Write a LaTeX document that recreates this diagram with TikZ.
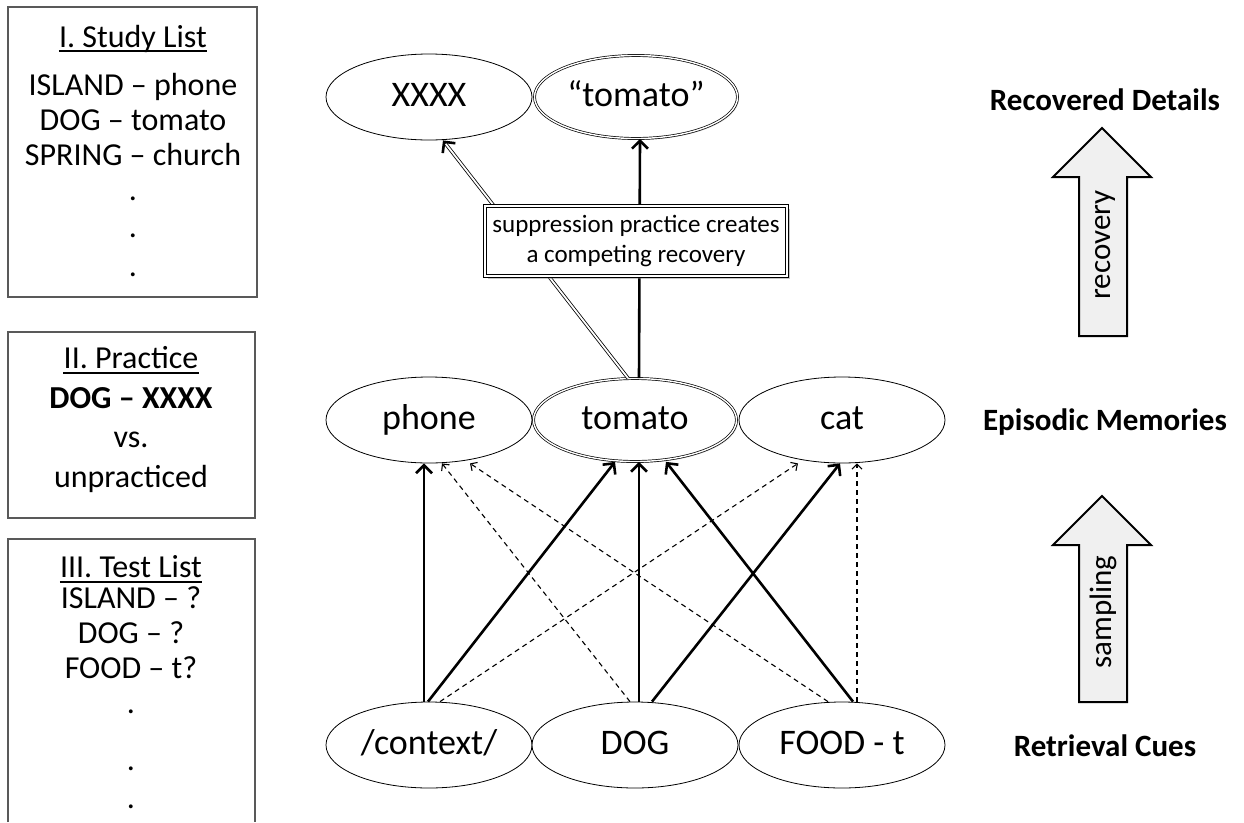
\documentclass[tikz,border=0pt]{standalone}
\usepackage{fontspec}
\setmainfont{Carlito}
\usetikzlibrary{shapes.geometric,arrows.meta,shadows,calc}

\tikzset{
  memnode/.style={ellipse, draw, line width=0.8pt, fill=white, minimum width=206pt,
    minimum height=86pt, inner sep=0pt, text height=25pt, text depth=6pt,
    font=\fontsize{36}{40}\selectfont},
  keynode/.style={memnode, double, double distance=1.4pt, line width=0.7pt,
    minimum width=203pt, minimum height=83pt,
    drop shadow={opacity=0.25, shadow xshift=1.5pt, shadow yshift=-1.5pt}},
  strong/.style={line width=2.6pt, -{Straight Barb[length=8pt, width=16pt]}},
  weak/.style={line width=1.1pt, dash pattern=on 5pt off 4pt,
    -{Straight Barb[length=5pt, width=10pt]}},
  listline/.style={anchor=base, inner sep=0pt, font=\fontsize{32}{36}\selectfont},
  levellabel/.style={anchor=base, font=\bfseries\fontsize{31}{36}\selectfont},
  bigarrow/.style={draw, line width=2pt, fill=black!6, line join=miter},
  arrowlabel/.style={rotate=90, font=\fontsize{31}{36}\selectfont},
  listframe/.style={draw=black!65, line width=1.2pt},
  notebox/.style={draw, double, double distance=1.6pt, line width=0.8pt, fill=white,
    align=center, minimum width=302pt, minimum height=70pt, inner sep=2pt,
    font=\fontsize{25}{30}\selectfont,
    drop shadow={opacity=0.45, shadow xshift=2.5pt, shadow yshift=-2.5pt}}
}

\begin{document}
\begin{tikzpicture}[x=1pt,y=-1pt]
  \useasboundingbox (0,0) rectangle (1244,822);

  % study list
  \draw[listframe] (8,7) rectangle (257,297);
  \node[listline] (s1) at (133,47) {I. Study List};
  \draw[line width=1.5pt] ([yshift=-4pt]s1.base west) -- ([yshift=-4pt]s1.base east);
  \node[listline] (s2) at (133,95) {ISLAND – phone};
  \node[listline] (s3) at (133,130) {DOG – tomato};
  \node[listline] (s4) at (133,165) {SPRING – church};
  \node[listline] (s5) at (133,200) {.};
  \node[listline] (s6) at (133,237) {.};
  \node[listline] (s7) at (133,276) {.};

  % practice
  \draw[listframe] (8,332) rectangle (255,518);
  \node[listline] (p1) at (131,368) {II. Practice};
  \draw[line width=1.5pt] ([yshift=-5pt]p1.base west) -- ([yshift=-5pt]p1.base east);
  \node[listline,font=\bfseries\fontsize{32}{36}\selectfont] (p2) at (131,408) {DOG – XXXX};
  \node[listline] (p3) at (131,447) {vs.};
  \node[listline] (p4) at (131,487) {unpracticed};

  % test list
  \draw[listframe] (8,822) -- (8,539) -- (255,539) -- (255,822);
  \node[listline] (t1) at (131,577) {III. Test List};
  \draw[line width=1.5pt] ([yshift=-5pt]t1.base west) -- ([yshift=-5pt]t1.base east);
  \node[listline] (t2) at (131,608) {ISLAND – ?};
  \node[listline] (t3) at (131,643) {DOG – ?};
  \node[listline] (t4) at (131,678) {FOOD – t?};
  \node[listline] (t5) at (131,713) {.};
  \node[listline] (t6) at (131,770) {.};
  \node[listline] (t7) at (131,808) {.};

  % recovered details
  \node[memnode] (xxxx) at (429,97) {XXXX};
  \node[keynode] (quote) at (636,97) {“tomato”};

  % episodic memories
  \node[memnode] (phone) at (429,420) {phone};
  \node[keynode] (tomato) at (635,420) {tomato};
  \node[memnode] (cat) at (842,420) {cat};

  % retrieval cues
  \node[memnode] (ctx) at (429,745) {/context/};
  \node[memnode] (dog) at (635,745) {DOG};
  \node[memnode] (food) at (842,745) {FOOD - t};

  % sampling links
  \draw[strong] ([xshift=-5pt]ctx.north) -- ([xshift=-5pt]phone.south);
  \draw[strong] ([xshift=-1pt]ctx.north) -- ([xshift=-20pt]tomato.south);
  \draw[weak] ([xshift=11pt]ctx.north) -- ([xshift=-44pt]cat.south);
  \draw[weak] ([xshift=-5pt]dog.north) -- ([xshift=13pt]phone.south);
  \draw[strong] ([xshift=4pt]dog.north) -- ([xshift=4pt]tomato.south);
  \draw[strong] ([xshift=17pt]dog.north) -- ([xshift=-2pt]cat.south);
  \draw[weak] ([xshift=-14pt]food.north) -- ([xshift=41pt]phone.south);
  \draw[strong] ([xshift=11pt]food.north) -- ([xshift=31pt]tomato.south);
  \draw[weak] ([xshift=15pt]food.north) -- ([xshift=15pt]cat.south);

  % recovery links
  \draw[strong] ([xshift=4pt]tomato.north) -- ([xshift=4pt]quote.south);
  \coordinate (dfoot) at ([xshift=-7pt]tomato.north);
  \coordinate (dtip) at ([xshift=14pt]xxxx.south);
  \draw[double, double distance=1.8pt, line width=0.8pt, shorten >=3pt] (dfoot) -- (dtip);
  \draw[line width=2.6pt, -{Straight Barb[length=8pt, width=16pt]}] ($(dtip)!4pt!(dfoot)$) -- (dtip);

  \node[notebox] (note) at (636,241) {suppression practice creates\\a competing recovery};

  % level labels
  \node[levellabel] (lrec) at (1105,110) {Recovered Details};
  \node[levellabel] (lepi) at (1105,430) {Episodic Memories};
  \node[levellabel] (lcue) at (1105,756) {Retrieval Cues};

  \draw[bigarrow] (1079,336) -- (1079,177) -- (1053,177) -- (1102,128) -- (1151,177)
    -- (1127,177) -- (1127,336) -- cycle;
  \node[arrowlabel] (arec) at (1105,245) {recovery};
  \draw[bigarrow] (1079,702) -- (1079,545) -- (1053,545) -- (1102,496) -- (1151,545)
    -- (1127,545) -- (1127,702) -- cycle;
  \node[arrowlabel] (asam) at (1103,612) {sampling};
\end{tikzpicture}
\end{document}
